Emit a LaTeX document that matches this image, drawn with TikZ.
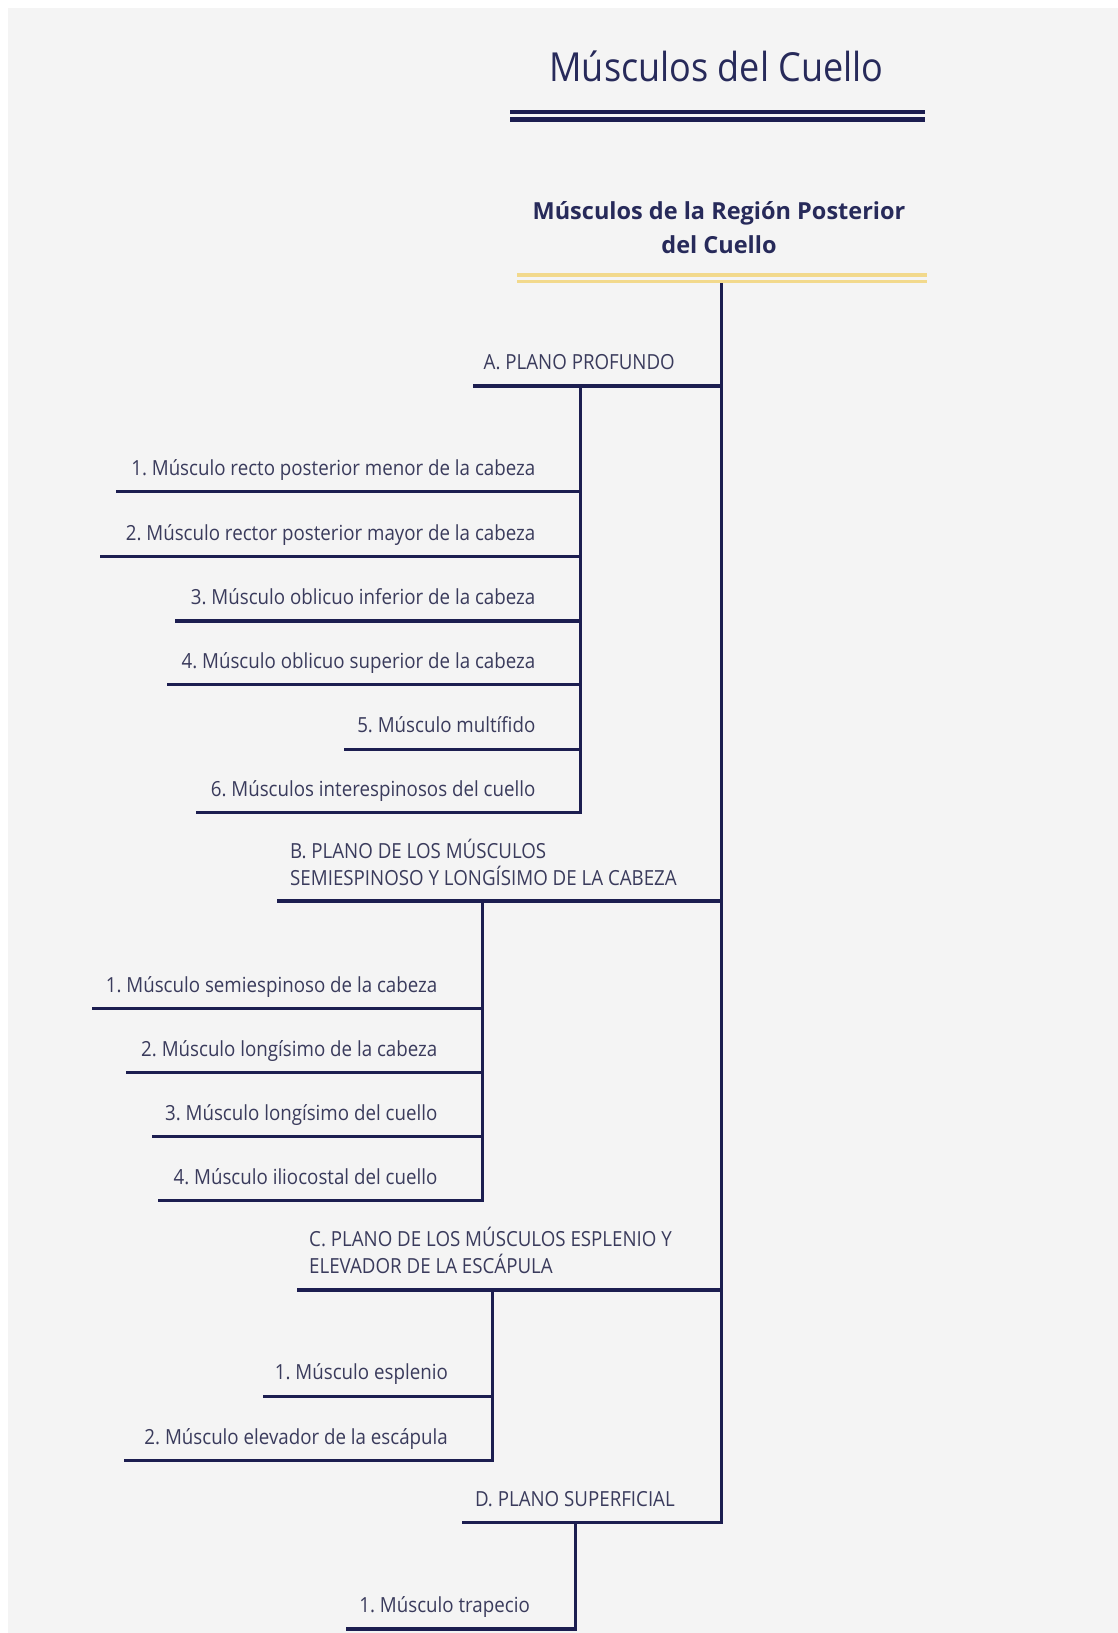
\documentclass[tikz,border=0pt]{standalone}
\usepackage{fontspec}
\setmainfont{Open Sans}[FakeStretch=0.9]
\newfontfamily\subfont{Open Sans}
\definecolor{navy}{HTML}{1C1E50}
\definecolor{txt}{HTML}{3A3B5C}
\definecolor{ttl}{HTML}{272A5A}
\definecolor{gold}{HTML}{F2D98C}
\definecolor{bg}{HTML}{F4F4F4}
\tikzset{
  conn/.style={draw=navy,line width=3.2pt,line join=miter},
  item/.style={text=txt,font=\fontsize{20.8}{27}\selectfont\frenchspacing,inner sep=0pt,anchor=base east},
  grouplbl/.style={text=txt,font=\fontsize{20.8}{27}\selectfont\frenchspacing,inner sep=0pt,align=left},
}
\begin{document}
\begin{tikzpicture}[x=1pt,y=-1pt]
\useasboundingbox (0,0) rectangle (1118,1633);
\fill[white] (0,0) rectangle (1118,1633);
\fill[bg] (8,8) rectangle (1118,1633);

% title
\node[anchor=base,inner sep=0pt,text=ttl,font=\fontsize{40}{48}\selectfont] (title) at (716.5,81) {Músculos del Cuello};
\draw[navy,line width=4.4pt] (510,112.2) -- (925,112.2);
\draw[navy,line width=4.6pt] (510,119.2) -- (925,119.2);

% subtitle (base anchor = last line baseline)
\node[anchor=base,inner sep=0pt,align=center,text=ttl,font=\subfont\fontsize{23.5}{34}\selectfont\bfseries] (sub) at (719,253) {Músculos de la Región Posterior\\del Cuello};
\draw[gold,line width=3.4pt] (517,275) -- (927,275);
\draw[gold,line width=3.4pt] (517,281.7) -- (927,281.7);

% trunk coordinates
\coordinate (top) at (721.5,283.4);
\coordinate (aR) at (721.5,386);
\coordinate (bR) at (721.5,901);
\coordinate (cR) at (721.5,1290);
\coordinate (dR) at (721.5,1522.7);

% group lines
\coordinate (aL) at (473,386);
\coordinate (bL) at (277,901);
\coordinate (cL) at (297,1290);
\coordinate (dL) at (462,1522.7);

\draw[conn] (top) -- (dR) -- (dL);
\draw[conn] (aR) -- (aL);
\draw[conn] (bR) -- (bL);
\draw[conn] (cR) -- (cL);

% group labels
\node[grouplbl,anchor=base east] (la) at (675,369) {A. PLANO PROFUNDO};
\node[grouplbl,anchor=base west] (lb) at (290,885) {B. PLANO DE LOS MÚSCULOS\\SEMIESPINOSO Y LONGÍSIMO DE LA CABEZA};
\node[grouplbl,anchor=base west] (lc) at (309,1273.5) {C. PLANO DE LOS MÚSCULOS ESPLENIO Y\\ELEVADOR DE LA ESCÁPULA};
\node[grouplbl,anchor=base east] (ld) at (675,1506) {D. PLANO SUPERFICIAL};

% ---- A items
\coordinate (aS) at (580.7,386);
\coordinate (a1r) at (580.7,491.8) ; \coordinate (a1l) at (115.7,491.8);
\coordinate (a2r) at (580.7,556.4) ; \coordinate (a2l) at (100,556.4);
\coordinate (a3r) at (580.7,621)   ; \coordinate (a3l) at (175,621);
\coordinate (a4r) at (580.7,684.5) ; \coordinate (a4l) at (166.7,684.5);
\coordinate (a5r) at (580.7,749.1) ; \coordinate (a5l) at (343.8,749.1);
\coordinate (a6r) at (580.7,812.7) ; \coordinate (a6l) at (195.9,812.7);
\draw[conn] (aS) -- (a6r) -- (a6l);
\foreach \i in {1,...,5} {\draw[conn] (a\i r) -- (a\i l);}
\node[item] (ta1) at (535.5,475.5) {1. Músculo recto posterior menor de la cabeza};
\node[item] (ta2) at (535.5,540.1) {2. Músculo rector posterior mayor de la cabeza};
\node[item] (ta3) at (535.5,604.7) {3. Músculo oblicuo inferior de la cabeza};
\node[item] (ta4) at (535.5,668.2) {4. Músculo oblicuo superior de la cabeza};
\node[item] (ta5) at (535.5,732.8) {5. Músculo multífido};
\node[item] (ta6) at (535.5,796.4) {6. Músculos interespinosos del cuello};

% ---- B items
\coordinate (bS) at (482.5,901);
\coordinate (b1r) at (482.5,1008.5); \coordinate (b1l) at (91.7,1008.5);
\coordinate (b2r) at (482.5,1072.7); \coordinate (b2l) at (126,1072.7);
\coordinate (b3r) at (482.5,1136.7); \coordinate (b3l) at (151.5,1136.7);
\coordinate (b4r) at (482.5,1200.5); \coordinate (b4l) at (157.5,1200.5);
\draw[conn] (bS) -- (b4r) -- (b4l);
\foreach \i in {1,...,3} {\draw[conn] (b\i r) -- (b\i l);}
\node[item] (tb1) at (437.5,992.2) {1. Músculo semiespinoso de la cabeza};
\node[item] (tb2) at (437.5,1056.4) {2. Músculo longísimo de la cabeza};
\node[item] (tb3) at (437.5,1120.4) {3. Músculo longísimo del cuello};
\node[item] (tb4) at (437.5,1184.2) {4. Músculo iliocostal del cuello};

% ---- C items
\coordinate (cS) at (492.7,1290);
\coordinate (c1r) at (492.7,1396.2); \coordinate (c1l) at (262.6,1396.2);
\coordinate (c2r) at (492.7,1460.8); \coordinate (c2l) at (124,1460.8);
\draw[conn] (cS) -- (c2r) -- (c2l);
\draw[conn] (c1r) -- (c1l);
\node[item] (tc1) at (448,1379.9) {1. Músculo esplenio};
\node[item] (tc2) at (448,1444.5) {2. Músculo elevador de la escápula};

% ---- D items
\coordinate (dS) at (575.7,1522.7);
\coordinate (d1r) at (575.7,1629); \coordinate (d1l) at (346,1629);
\draw[conn] (dS) -- (d1r) -- (d1l);
\node[item] (td1) at (530,1612.7) {1. Músculo trapecio};
\end{tikzpicture}
\end{document}
